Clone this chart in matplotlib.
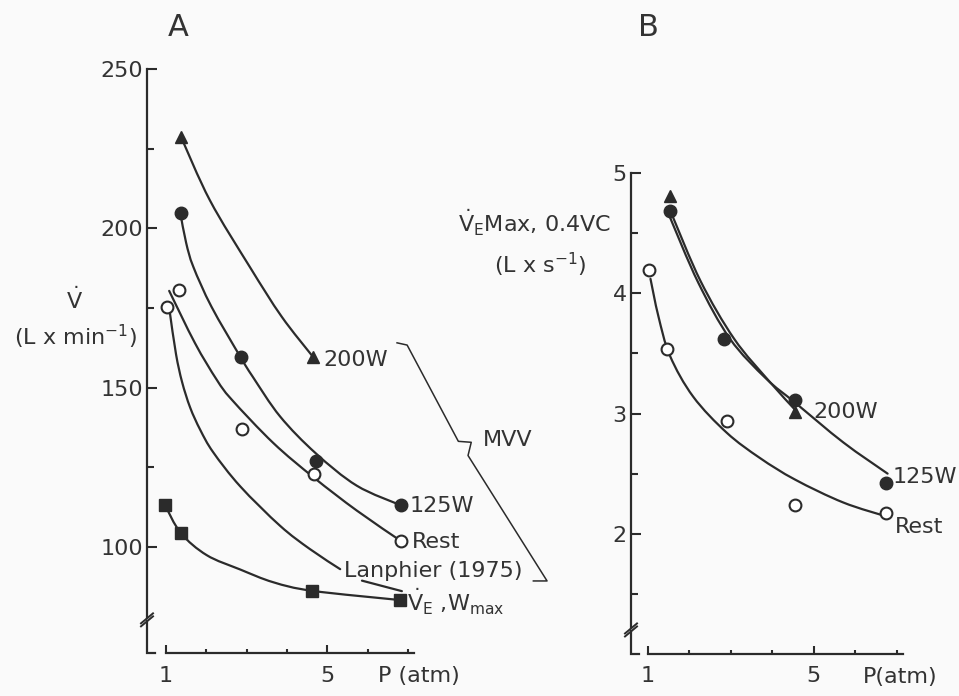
import numpy as np
import matplotlib
matplotlib.use("Agg")
import matplotlib.pyplot as plt
from matplotlib.path import Path
from matplotlib.patches import PathPatch

plt.rcParams['font.family'] = ['DejaVu Sans']
plt.rcParams['mathtext.fontset'] = 'dejavusans'

INK = '#2b2b2b'

# ---------------- panel A : ventilation (L/min) vs pressure ----------------
a_200w_x = [1.37, 4.65]
a_200w_y = [228.8, 159.7]
a_125w_x = [1.37, 2.86, 4.72, 6.83]
a_125w_y = [204.7, 159.7, 126.9, 113.1]
a_rest_x = [1.02, 1.32, 2.89, 4.67, 6.83]
a_rest_y = [175.3, 180.6, 137.2, 123.1, 101.9]
a_wmax_x = [0.98, 1.37, 4.62, 6.81]
a_wmax_y = [113.1, 104.4, 86.3, 83.4]

# hand-drawn fitted curves
a_200w_cx = [1.37, 2.09, 3.08, 3.87, 4.64]
a_200w_cy = [228.8, 208.8, 187.9, 172.3, 159.8]
a_125w_cx = [1.36, 1.50, 1.68, 2.13, 2.84, 3.15, 3.83, 4.71, 5.73, 6.83]
a_125w_cy = [204.6, 195.5, 187.9, 175.4, 159.8, 153.5, 141.0, 129.5, 119.3, 113.1]
a_rest_cx = [1.08, 1.72, 2.26, 2.63, 3.66, 4.67, 5.73, 6.83]
a_rest_cy = [180.4, 164.0, 152.5, 146.3, 132.7, 121.8, 111.5, 101.9]
a_lanph_cx = [1.10, 1.25, 1.40, 1.60, 1.85, 2.17, 2.84, 3.83, 4.57, 5.32]
a_lanph_cy = [173.3, 160.5, 151.8, 143.8, 136.8, 129.8, 119.1, 106.7, 99.4, 93.1]
a_lanph2_cx = [5.86, 6.85]
a_lanph2_cy = [89.5, 86.2]
a_wmax_cx = [0.98, 1.37, 2.01, 2.84, 3.66, 4.63, 6.81]
a_wmax_cy = [113.1, 104.4, 97.5, 93.0, 89.0, 86.3, 83.4]

# MVV brace
mvv_x = [6.73, 6.98, 8.25, 8.57, 8.49, 10.45, 10.11]
mvv_y = [164.1, 163.4, 133.2, 132.9, 128.75, 89.4, 89.4]

# ---------------- panel B : VE max (L/s) vs pressure ----------------
b_200w_x = [1.53, 4.55]
b_200w_y = [4.81, 3.01]
b_125w_x = [1.53, 2.84, 4.55, 6.73]
b_125w_y = [4.68, 3.62, 3.11, 2.42]
b_rest_x = [1.03, 1.45, 2.90, 4.55, 6.73]
b_rest_y = [4.19, 3.54, 2.94, 2.24, 2.17]

b_200w_cx = [1.57, 2.27, 3.08, 3.92, 4.55]
b_200w_cy = [4.66, 4.10, 3.62, 3.27, 3.03]
b_125w_cx = [1.52, 2.21, 2.98, 3.85, 4.55, 5.71, 6.78]
b_125w_cy = [4.64, 4.09, 3.62, 3.29, 3.09, 2.76, 2.50]
b_rest_cx = [1.06, 1.25, 1.53, 2.09, 2.90, 3.70, 4.55, 5.71, 6.79]
b_rest_cy = [4.12, 3.81, 3.48, 3.14, 2.84, 2.63, 2.45, 2.26, 2.14]

fig = plt.figure(figsize=(9.59, 6.96), dpi=100, facecolor='#fafafa')
W, H = 959, 696

axA = fig.add_axes([147 / W, 1 - 653 / H, (416 - 147) / W, (653 - 69) / H])
axB = fig.add_axes([631 / W, 1 - 654 / H, (905 - 631) / W, (654 - 173) / H])
axA.set_xlim(0.53, 7.2)
axA.set_ylim(66.8, 250)
axB.set_xlim(0.59, 7.2)
axB.set_ylim(1.0, 5.0)


def style_axis(ax, yticks, yminor, brk, lo, hi, px_x, px_y):
    ax.set_facecolor('none')
    for s in ['top', 'right']:
        ax.spines[s].set_visible(False)
    for s in ['left', 'bottom']:
        ax.spines[s].set_linewidth(1.6)
        ax.spines[s].set_color(INK)
    ax.spines['bottom'].set_bounds(1, 7.15)
    ax.spines['left'].set_bounds(brk + 1.5 * px_y, hi)
    ax.set_xticks([1, 5])
    ax.set_xticks([2, 3, 4, 6, 7], minor=True)
    ax.set_yticks(yticks)
    ax.set_yticks(yminor, minor=True)
    ax.tick_params(axis='both', which='both', direction='in', colors=INK,
                   labelcolor='#333333', labelsize=16, width=1.5)
    ax.tick_params(axis='y', which='major', length=7, pad=3)
    ax.tick_params(axis='y', which='minor', length=5)
    ax.tick_params(axis='x', which='major', length=6, pad=9)
    ax.tick_params(axis='x', which='minor', length=3)
    tr = ax.get_yaxis_transform()
    # lower stub of the broken axis and its foot
    ax.plot([0, 0, 8 * px_x], [brk - 1.5 * px_y, lo, lo], color=INK, lw=1.6,
            transform=tr, clip_on=False, solid_joinstyle='miter')
    # break marks
    for c in [brk + 1.5 * px_y, brk - 1.5 * px_y]:
        ax.plot([-6 * px_x, 6 * px_x], [c - 5 * px_y, c + 5 * px_y],
                color=INK, lw=1.4, transform=tr, clip_on=False)


style_axis(axA, [100, 150, 200, 250], [125, 175, 225], 77.2, 66.8, 250,
           1 / 269, 1 / 3.19)
style_axis(axB, [2, 3, 4, 5], [1.5, 2.5, 3.5, 4.5], 1.2, 1.0, 5.0,
           1 / 274, 1 / 120)


def smooth_curve(ax, x, y, lw=1.6):
    # smooth pen line through the read-off points (Catmull-Rom as Bezier)
    pts = np.column_stack([x, y]).astype(float)
    verts = [pts[0]]
    codes = [Path.MOVETO]
    n = len(pts)
    for i in range(n - 1):
        p0 = pts[i - 1] if i > 0 else pts[i]
        p1 = pts[i]
        p2 = pts[i + 1]
        p3 = pts[i + 2] if i + 2 < n else pts[i + 1]
        verts += [p1 + (p2 - p0) / 6, p2 - (p3 - p1) / 6, p2]
        codes += [Path.CURVE4] * 3
    ax.add_patch(PathPatch(Path(verts, codes), fill=False, edgecolor=INK,
                           lw=lw, clip_on=False, capstyle='round'))


# curves panel A
for cx, cy in [(a_200w_cx, a_200w_cy), (a_125w_cx, a_125w_cy),
               (a_rest_cx, a_rest_cy), (a_lanph_cx, a_lanph_cy),
               (a_lanph2_cx, a_lanph2_cy), (a_wmax_cx, a_wmax_cy)]:
    smooth_curve(axA, cx, cy)
axA.plot(mvv_x, mvv_y, color=INK, lw=1.1, clip_on=False)

axA.plot(a_200w_x, a_200w_y, '^', color=INK, ms=8, zorder=3, clip_on=False)
axA.plot(a_125w_x, a_125w_y, 'o', color=INK, ms=9, zorder=3, clip_on=False)
axA.plot(a_rest_x, a_rest_y, 'o', mfc='white', mec=INK, mew=1.5, ms=8.5,
         zorder=3, clip_on=False)
axA.plot(a_wmax_x, a_wmax_y, 's', color=INK, ms=9, zorder=3, clip_on=False)

# curves panel B
for cx, cy in [(b_200w_cx, b_200w_cy), (b_125w_cx, b_125w_cy),
               (b_rest_cx, b_rest_cy)]:
    smooth_curve(axB, cx, cy)
axB.plot(b_200w_x, b_200w_y, '^', color=INK, ms=8, zorder=3, clip_on=False)
axB.plot(b_125w_x, b_125w_y, 'o', color=INK, ms=9, zorder=3, clip_on=False)
axB.plot(b_rest_x, b_rest_y, 'o', mfc='white', mec=INK, mew=1.5, ms=8.5,
         zorder=3, clip_on=False)

# curve labels
lab = dict(color='#333333', fontsize=16, va='center', ha='left')
axA.text(4.90, 158.8, '200W', **lab)
axA.text(7.05, 112.8, '125W', **lab)
axA.text(7.10, 101.6, 'Rest', **lab)
axA.text(5.42, 92.5, 'Lanphier (1975)', **lab)
axA.text(6.98, 79.7, r'$\dot{\mathrm{V}}_{\mathrm{E}}$ ,W$_{\mathrm{max}}$',
         color='#333333', fontsize=16, va='baseline', ha='left')
axA.text(8.87, 133.75, 'MVV', **lab)

axB.text(4.98, 3.01, '200W', **lab)
axB.text(6.90, 2.475, '125W', **lab)
axB.text(6.95, 2.06, 'Rest', **lab)

# x labels
fig.text(378 / W, 1 - 676 / H, 'P (atm)', fontsize=16, color='#333333',
         va='center', ha='left')
fig.text(863 / W, 1 - 677 / H, 'P(atm)', fontsize=16, color='#333333',
         va='center', ha='left')

# y labels
fig.text(75 / W, 1 - 300 / H, r'$\dot{\mathrm{V}}$', fontsize=16,
         color='#333333', ha='center', va='center')
fig.text(75 / W, 1 - 337 / H, r'(L x min$^{-1}$)', fontsize=16,
         color='#333333', ha='center', va='center')
fig.text(534 / W, 1 - 223 / H, r'$\dot{\mathrm{V}}_{\mathrm{E}}$Max, 0.4VC',
         fontsize=16, color='#333333', ha='center', va='center')
fig.text(540 / W, 1 - 265 / H, r'(L x s$^{-1}$)', fontsize=16,
         color='#333333', ha='center', va='center')

# panel letters
fig.text(178 / W, 1 - 28 / H, 'A', fontsize=22, color='#333333',
         ha='center', va='center')
fig.text(648 / W, 1 - 28 / H, 'B', fontsize=22, color='#333333',
         ha='center', va='center')

fig.savefig('out.png', dpi=100, facecolor=fig.get_facecolor())
